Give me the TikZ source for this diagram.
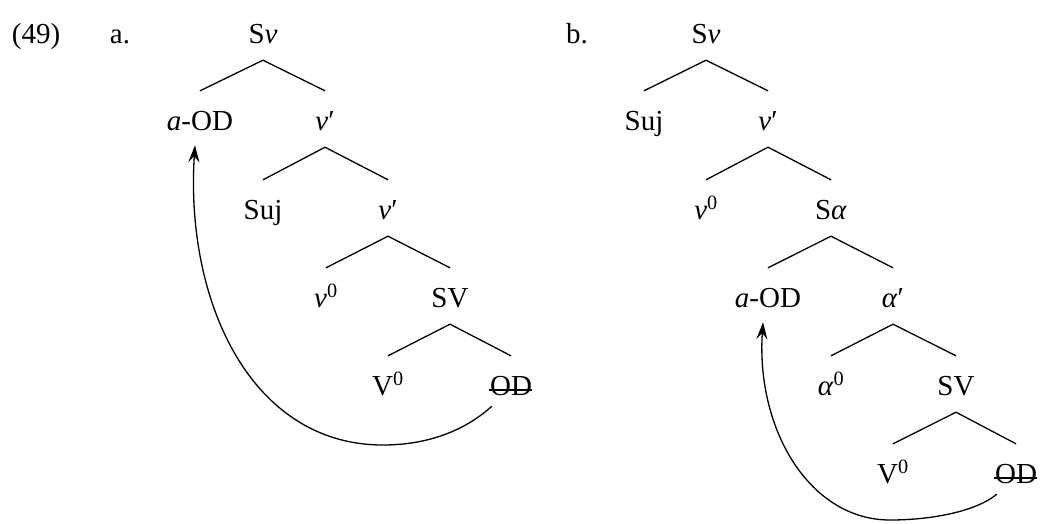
\documentclass[tikz,border=0pt]{standalone}
\usepackage{fontspec}
\setmainfont{Liberation Serif}
\usetikzlibrary{arrows.meta}
\begin{document}
\begin{tikzpicture}[x=1pt,y=-1pt,
  lab/.style={anchor=base, inner xsep=0pt, inner ysep=10pt, text height=29pt, text depth=7pt, font=\fontsize{29}{34}\selectfont},
  br/.style={line width=1.3pt},
  strike/.style={line width=1.3pt},
  mv/.style={line width=1.3pt, -{Stealth[length=17pt,width=11pt,inset=6pt]}}]
\useasboundingbox (0,0) rectangle (1040,523);
\node[lab] (num) at (36,43) {(49)};
\node[lab] (la) at (120,43) {a.};
\node[lab] (lb) at (577,43) {b.};
% tree a
\node[lab] (sva) at (263,43) {S\textit{v}};
\node[lab] (aoda) at (200,130) {\textit{a}-OD};
\node[lab] (vpa1) at (325,130) {\textit{v}′};
\node[lab] (suja) at (263,219) {Suj};
\node[lab] (vpa2) at (388,219) {\textit{v}′};
\node[lab] (v0a) at (326,307) {\textit{v}\textsuperscript{0}};
\node[lab] (sva2) at (450,307) {SV};
\node[lab] (V0a) at (388,395) {V\textsuperscript{0}};
\node[lab] (oda) at (511,395) {OD};
\draw[br] (sva.south) -- (aoda.north);
\draw[br] (sva.south) -- (vpa1.north);
\draw[br] (vpa1.south) -- (suja.north);
\draw[br] (vpa1.south) -- (vpa2.north);
\draw[br] (vpa2.south) -- (v0a.north);
\draw[br] (vpa2.south) -- (sva2.north);
\draw[br] (sva2.south) -- (V0a.north);
\draw[br] (sva2.south) -- (oda.north);
\draw[strike] ([xshift=-1pt,yshift=5pt]oda.base west) -- ([yshift=5pt]oda.base east);
\draw[mv] ([xshift=2pt,yshift=6pt]oda.south west) .. controls (460,435) and (420,445) .. (383,445)
  .. controls (250,445) and (185,300) .. ([xshift=-5pt,yshift=2pt]aoda.south);
% tree b
\node[lab] (svb) at (706,43) {S\textit{v}};
\node[lab] (sujb) at (644,130) {Suj};
\node[lab] (vpb) at (768,130) {\textit{v}′};
\node[lab] (v0b) at (706,219) {\textit{v}\textsuperscript{0}};
\node[lab] (sab) at (831,219) {S\textit{α}};
\node[lab] (aodb) at (768,307) {\textit{a}-OD};
\node[lab] (apb) at (893,307) {\textit{α}′};
\node[lab] (a0b) at (831,395) {\textit{α}\textsuperscript{0}};
\node[lab] (svb2) at (956,395) {SV};
\node[lab] (V0b) at (893,483) {V\textsuperscript{0}};
\node[lab] (odb) at (1016,483) {OD};
\draw[br] (svb.south) -- (sujb.north);
\draw[br] (svb.south) -- (vpb.north);
\draw[br] (vpb.south) -- (v0b.north);
\draw[br] (vpb.south) -- (sab.north);
\draw[br] (sab.south) -- (aodb.north);
\draw[br] (sab.south) -- (apb.north);
\draw[br] (apb.south) -- (a0b.north);
\draw[br] (apb.south) -- (svb2.north);
\draw[br] (svb2.south) -- (V0b.north);
\draw[br] (svb2.south) -- (odb.north);
\draw[strike] ([xshift=-1pt,yshift=5pt]odb.base west) -- ([yshift=5pt]odb.base east);
\draw[mv] ([xshift=2pt,yshift=6pt]odb.south west) .. controls (975,512) and (930,520) .. (890,520)
  .. controls (810,520) and (756,430) .. ([xshift=-5pt,yshift=2pt]aodb.south);
\end{tikzpicture}
\end{document}
